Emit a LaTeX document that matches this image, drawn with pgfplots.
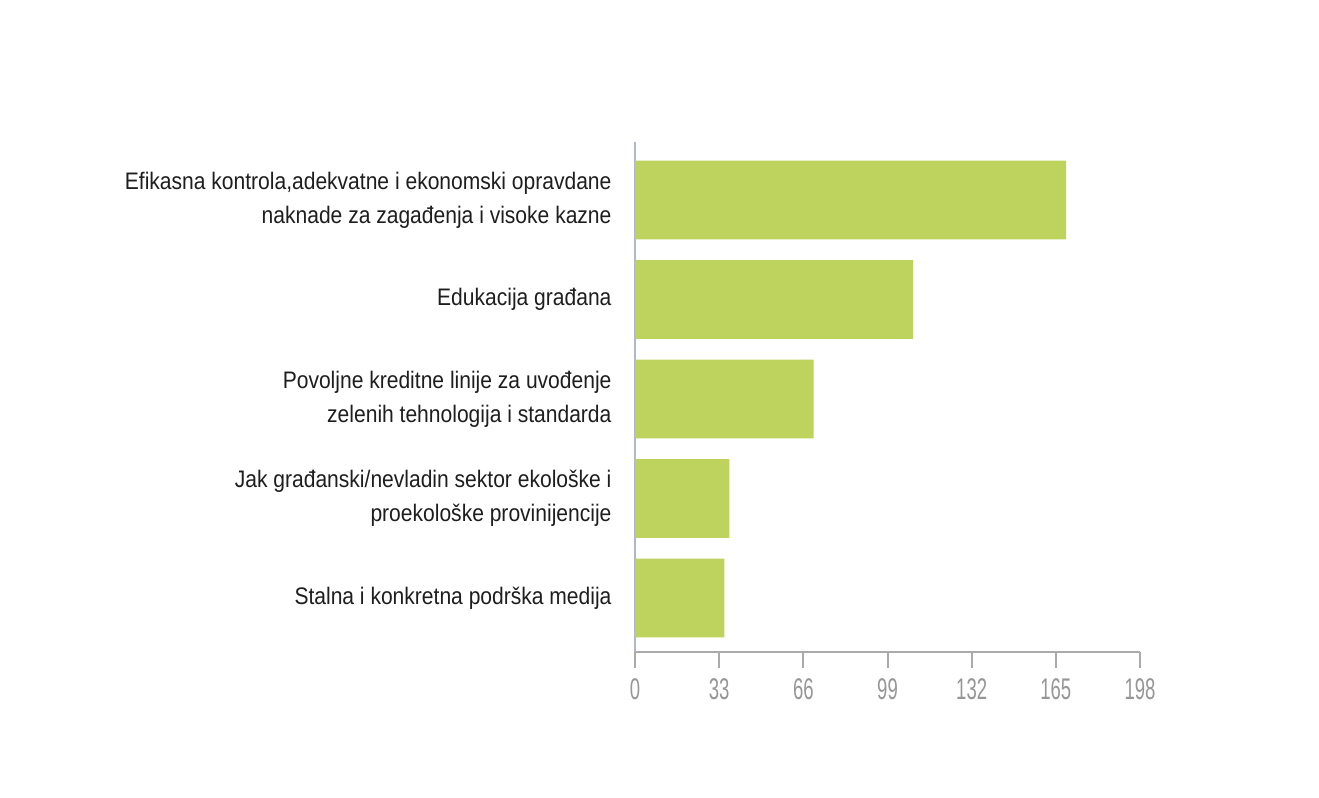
\documentclass[border=0pt]{standalone}
\usepackage{fontspec}
\setmainfont{Liberation Sans}
\newfontfamily\narrowfont[FakeStretch=0.62]{Liberation Sans}
\newfontfamily\labelfont[FakeStretch=0.88]{Liberation Sans}
\usepackage{pgfplots}
\pgfplotsset{compat=1.18}
\definecolor{bargreen}{RGB}{189,211,94}
\definecolor{labelgray}{RGB}{30,30,30}
\definecolor{tickgray}{RGB}{150,150,150}
\definecolor{xaxisgray}{RGB}{170,170,170}
\definecolor{yaxisgray}{RGB}{175,182,205}
\begin{document}
\begin{tikzpicture}
\useasboundingbox (0,0) rectangle (1319bp,798bp);
\begin{axis}[
  at={(635bp,146bp)}, anchor=south west,
  scale only axis, width=505bp, height=510bp,
  xmin=0, xmax=198, ymin=0.457, ymax=5.583,
  xbar, bar width=0.79,
  axis x line*=bottom, axis y line*=left,
  x axis line style={-, draw=xaxisgray, line width=2bp},
  y axis line style={-, draw=yaxisgray, line width=1.2bp},
  xtick={0,33,66,99,132,165,198},
  xtick align=outside,
  major tick length=16bp,
  xtick style={draw=xaxisgray, line width=2bp},
  ytick={1,2,3,4,5},
  ytick style={draw=none},
  yticklabels={
    {Stalna i konkretna podrška medija},
    {Jak građanski/nevladin sektor ekološke i\\proekološke provinijencije},
    {Povoljne kreditne linije za uvođenje\\zelenih tehnologija i standarda},
    {Edukacija građana},
    {Efikasna kontrola,adekvatne i ekonomski opravdane\\naknade za zagađenja i visoke kazne}},
  yticklabel style={align=right, font=\labelfont\fontsize{24}{34}\selectfont, text=labelgray, xshift=-4bp},
  /pgf/number format/assume math mode=true,
  xticklabel style={font=\narrowfont\fontsize{30}{30}\selectfont, text=tickgray, yshift=-7bp},
  grid=none,
]
\addplot[fill=bargreen, draw=none] coordinates {
  (35,1) (37,2) (70,3) (109,4) (169,5)
};
\end{axis}
\end{tikzpicture}
\end{document}
